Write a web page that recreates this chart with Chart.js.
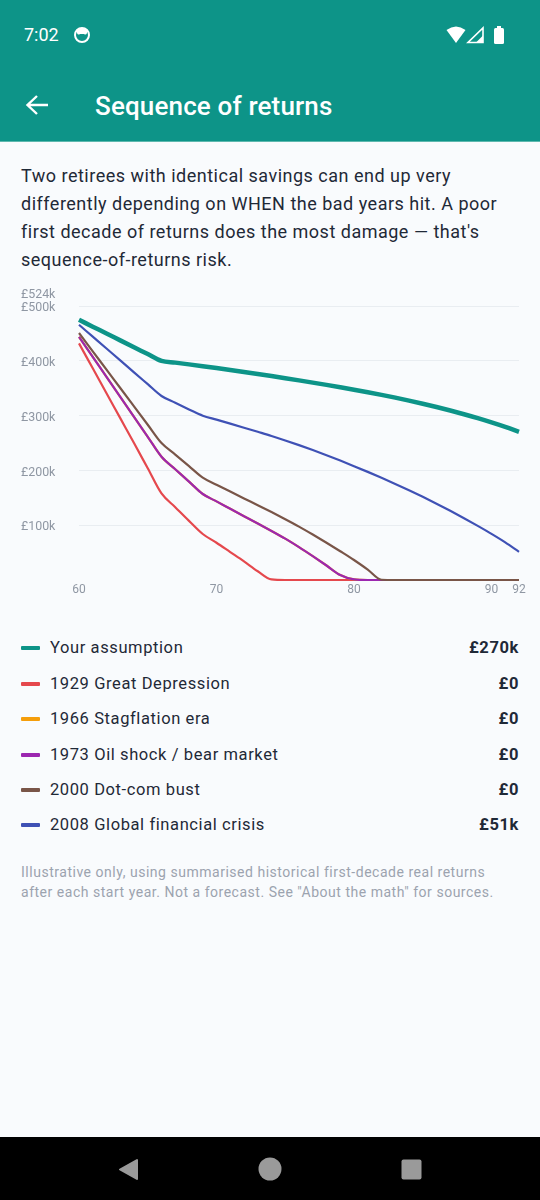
<!DOCTYPE html>
<html><head><meta charset="utf-8">
<script src="https://cdn.jsdelivr.net/npm/chart.js@4/dist/chart.umd.min.js"></script>
<style>
html,body{margin:0;padding:0;width:540px;height:1200px;overflow:hidden;background:#f9fbfd;font-family:Roboto,sans-serif}
#head{position:absolute;left:0;top:0;width:540px;height:141px;background:#0d9488;border-bottom:1px solid #5eb8ae;box-sizing:content-box}
#time{position:absolute;left:24px;top:25px;font-size:18px;line-height:20px;color:#fff}
#title{position:absolute;left:95px;top:90px;font-size:26px;line-height:32px;font-weight:500;color:#fff;letter-spacing:.15px}
#intro{position:absolute;left:21px;top:162px;width:500px;font-size:18px;line-height:28px;color:#1f2937;letter-spacing:.5px;white-space:nowrap}
#wrap{position:absolute;left:0;top:280px;width:540px;height:320px}
#legend{position:absolute;left:21px;top:630px;width:498px}
.row{position:absolute;left:0;width:498px;height:35px;display:flex;align-items:center;font-size:16.5px;color:#1f2937;letter-spacing:.6px}
.dash{width:18.5px;height:4px;border-radius:1px;margin-right:10.5px}
.val{margin-left:auto;font-weight:700;letter-spacing:.6px}
#note{position:absolute;left:21px;top:863px;font-size:14px;line-height:19.5px;color:#9ca3af;letter-spacing:.52px;white-space:nowrap}
#nav{position:absolute;left:0;top:1137px;width:540px;height:63px;background:#000}
svg{position:absolute}
</style></head><body>
<div id="head">
<div id="time">7:02</div>
<svg style="left:73px;top:26px" width="18" height="18" viewBox="0 0 18 18"><circle cx="9" cy="9" r="7" fill="none" stroke="#fff" stroke-width="2"/><path d="M4 3h10v4a2 2 0 0 1-3 1h-4a2 2 0 0 1-3-1z" fill="#fff"/></svg>
<svg style="left:445px;top:24px" width="62" height="22" viewBox="0 0 62 22"><path d="M1.500 6Q11-1 20.500 6L11 19z" fill="#fff"/><path d="M38 4V18.500H23z" fill="none" stroke="#fff" stroke-width="1.600"/><path d="M31 18.500L38 11.500V18.500z" fill="#fff"/><rect x="49" y="4" width="10" height="16" rx="1.500" fill="#fff"/><rect x="52" y="2" width="4" height="3" fill="#fff"/></svg>
<svg style="left:24px;top:93px" width="26" height="24" viewBox="0 0 26 24"><path d="M13 3L3.500 12L13 21M3.500 12H24" fill="none" stroke="#fff" stroke-width="2.400"/></svg>
<div id="title">Sequence of returns</div>
</div>
<div id="intro">Two retirees with identical savings can end up very<br>differently depending on WHEN the bad years hit. A poor<br>first decade of returns does the most damage — that's<br>sequence-of-returns risk.</div>
<div id="wrap"><canvas id="c" width="540" height="320"></canvas></div>
<div id="legend"></div>
<div id="note">Illustrative only, using summarised historical first-decade real returns<br>after each start year. Not a forecast. See "About the math" for sources.</div>
<div id="nav">
<svg style="left:0;top:0" width="540" height="63" viewBox="0 0 540 63"><path d="M137 23V42L120 32.500z" fill="#9a9a9a" stroke="#9a9a9a" stroke-width="2" stroke-linejoin="round"/><circle cx="270" cy="32" r="11.500" fill="#9a9a9a"/><rect x="401.500" y="22.500" width="20" height="20" rx="2" fill="#9a9a9a"/></svg>
</div>
<script>
const ages=[60,61,62,63,64,65,66,67,68,69,70,71,72,73,74,75,76,77,78,79,80,81,82,83,84,85,86,87,88,89,90,91,92];
const yourAssumption=[475,462.5,450,437.5,425,412.5,400,396.9,393.7,390.4,387,383.5,379.9,376.2,372.4,368.5,364.5,360.4,356.2,351.9,347.5,342.9,338,332.9,327.5,321.8,315.8,309.4,302.6,295.4,287.7,279.5,270.5];
const greatDepression=[432,386.5,341,295.5,250,204,158,133,108,84,68,51,34,16,1,0,0,0,0,0,0,0,0,0,0,0,0,0,0,0,0,0,0];
const stagflation=[444,407.5,371,334.5,298,261.5,225,202.3,179.6,157,143.5,130,116.5,103,89.5,75.5,60,43.5,26.5,9,1,0,0,0,0,0,0,0,0,0,0,0,0];
const oilShock=[444,407.5,371,334.5,298,261.5,225,202.3,179.6,157,143.5,130,116.5,103,89.5,75.5,60,43.5,26.5,9,1,0,0,0,0,0,0,0,0,0,0,0,0];
const dotCom=[451,417.5,384,350.5,317,283.5,250,229,208,187,174,161.5,149,136.5,124,111,97.5,83,68,52.5,36.5,19,0.5,0,0,0,0,0,0,0,0,0,0];
const financialCrisis=[466,444.3,422.6,401,379,357.5,336,323.5,311.5,300,292.8,285.5,278.1,270.6,263,254.8,246.2,237.2,227.8,218,207.8,197.4,186.6,175.4,163.8,151.8,139.3,126.3,112.8,98.8,84.3,68.8,51.5];
const xTicks=[60,70,80,90,92];
const yTicks=[100,200,300,400,500,524];
const names=["Your assumption","1929 Great Depression","1966 Stagflation era","1973 Oil shock / bear market","2000 Dot-com bust","2008 Global financial crisis"];
const finals=["£270k","£0","£0","£0","£0","£51k"];
const colors=["#0d9488","#e5484d","#f59e0b","#9c27b0","#795548","#3f51b5"];
const series=[yourAssumption,greatDepression,stagflation,oilShock,dotCom,financialCrisis];
const widths=[4.5,2.2,2.2,2.2,2.2,2.2];

const lg=document.getElementById('legend');
names.forEach((n,i)=>{
  const r=document.createElement('div');r.className='row';r.style.top=Math.round(0.4+i*35.4)+'px';
  r.innerHTML='<span class="dash" style="background:'+colors[i]+'"></span><span>'+n+'</span><span class="val">'+finals[i]+'</span>';
  lg.appendChild(r);
});
const nudgeY={id:'nudgeY',beforeDraw(chart){
  const s=chart.scales.y;
  if(s._nudged)return;
  s._nudged=true;
  const orig=s.drawLabels.bind(s);
  s.drawLabels=function(area){const c=chart.ctx;c.save();c.translate(0,2);orig(area);c.restore();};
}};
new Chart(document.getElementById('c'),{
  type:'line',
  plugins:[nudgeY],
  data:{datasets:series.map((s,i)=>({label:names[i],order:-i,data:s.map((v,j)=>({x:ages[j],y:v})),borderColor:colors[i],borderWidth:widths[i],pointRadius:0,cubicInterpolationMode:'monotone',clip:false,fill:false}))},
  options:{responsive:false,animation:false,
    layout:{padding:{left:21,right:21,top:13,bottom:0}},
    plugins:{legend:{display:false},tooltip:{enabled:false}},
    scales:{
      x:{type:'linear',min:60,max:92,afterBuildTicks:a=>{a.ticks=xTicks.map(v=>({value:v}))},afterFit:a=>{a.height=20},
        grid:{display:false,drawTicks:false},border:{display:false},
        ticks:{autoSkip:false,maxRotation:0,padding:3,color:'#8f97a3',font:{family:'Roboto',size:12},callback:v=>String(v)}},
      y:{min:0,max:524,afterBuildTicks:a=>{a.ticks=yTicks.map(v=>({value:v}))},afterFit:a=>{a.width=58},
        grid:{drawTicks:false,lineWidth:1,color:c=>c.tick&&c.tick.value===524?'transparent':'#e9edf1'},border:{display:false},
        ticks:{crossAlign:'far',padding:0,color:'#8f97a3',font:{family:'Roboto',size:12.4},callback:v=>'£'+v+'k'}}
    }
  }
});
</script>
</body></html>
